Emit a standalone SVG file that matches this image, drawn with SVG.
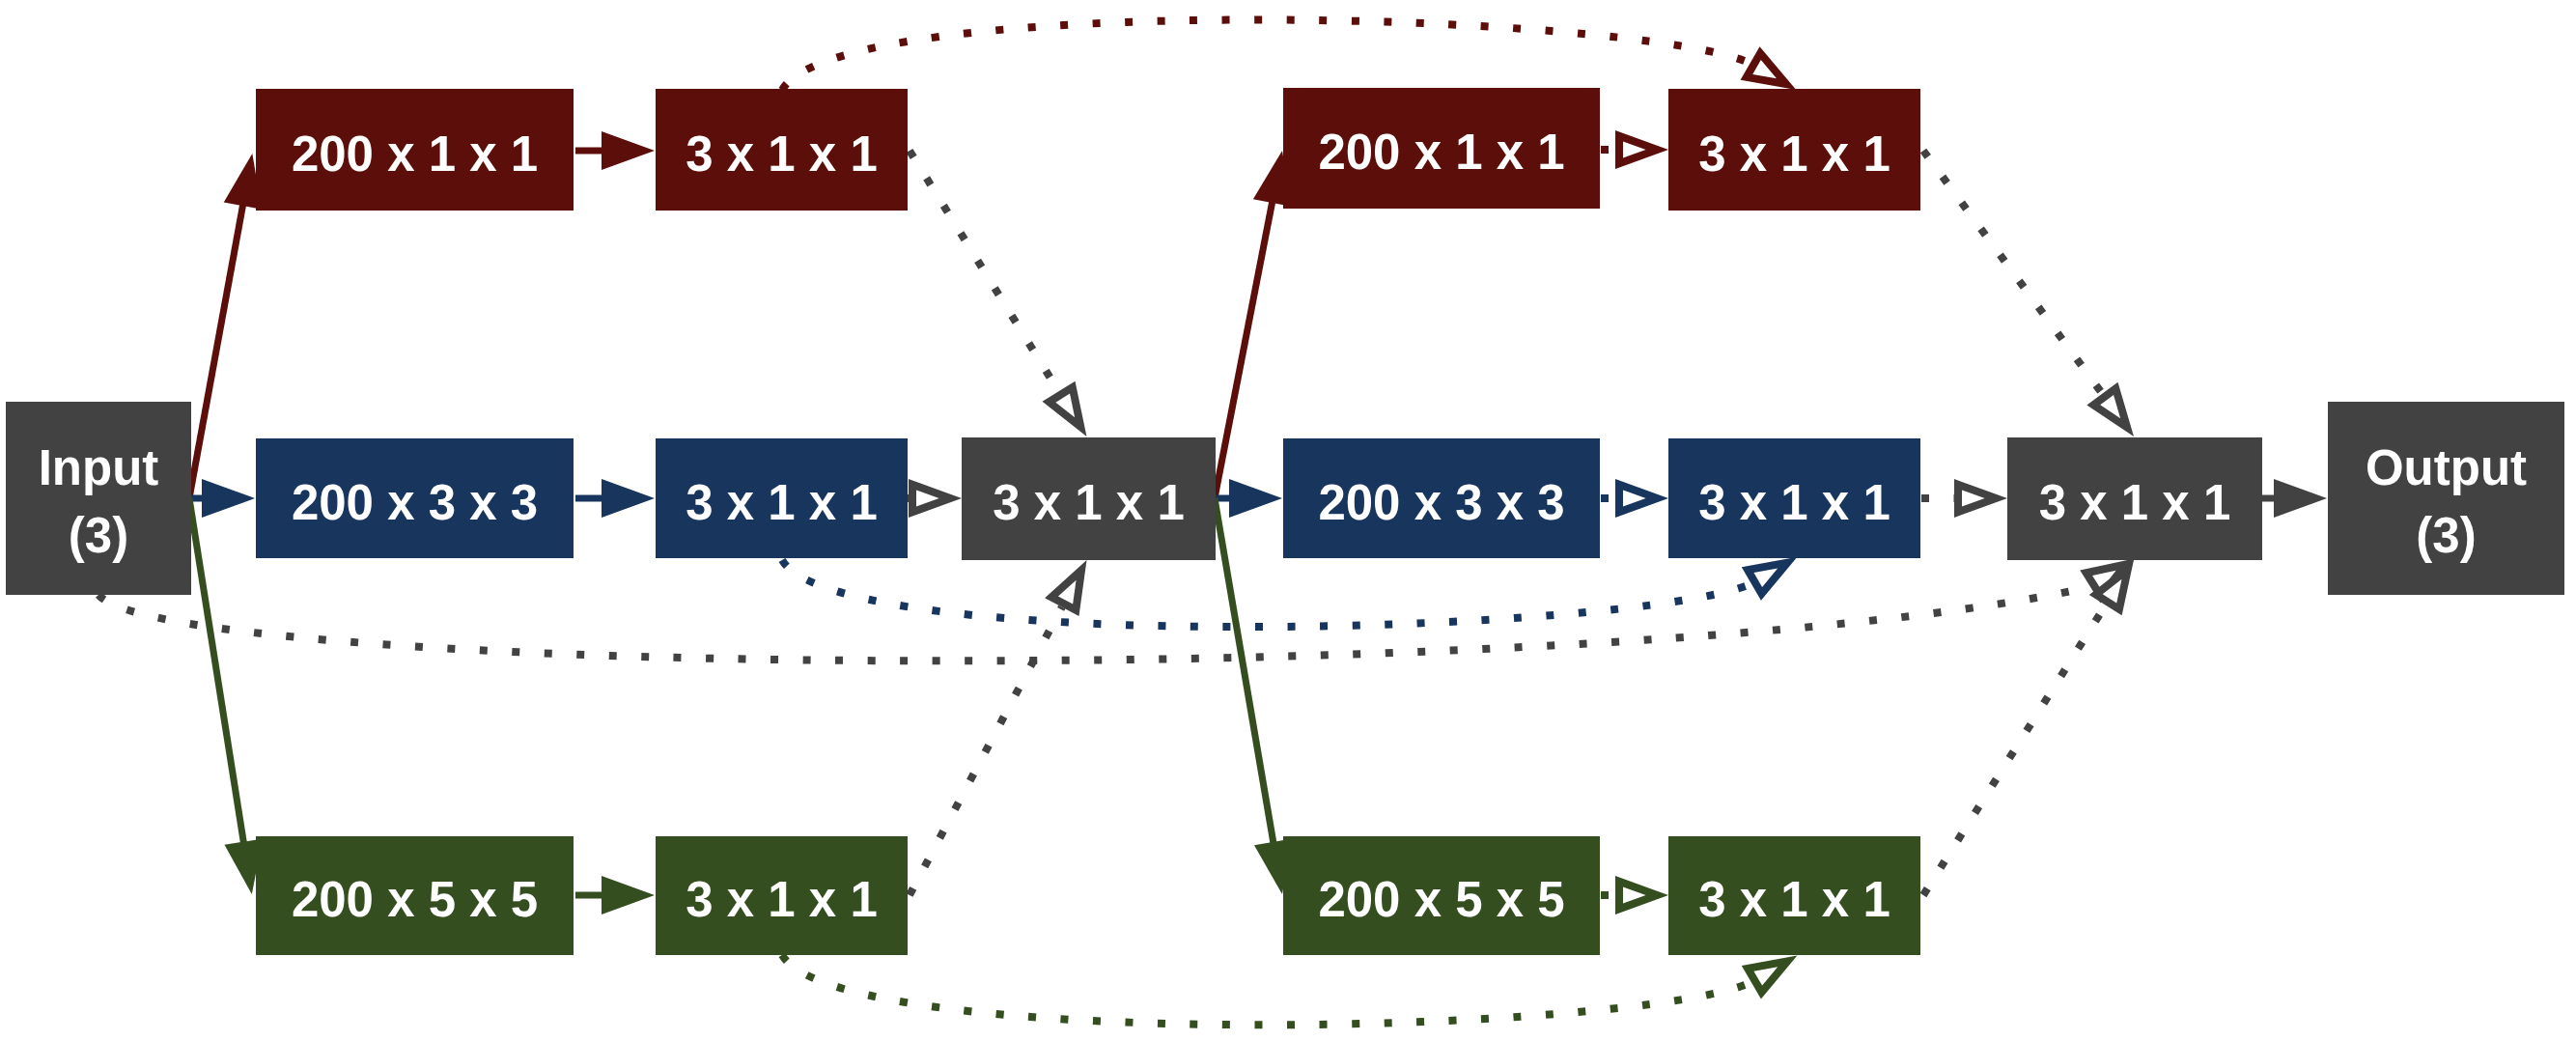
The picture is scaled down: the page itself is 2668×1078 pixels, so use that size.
<svg xmlns="http://www.w3.org/2000/svg" width="2668" height="1078" viewBox="0 0 2668 1078">
<style>
.red{fill:#5C0F0A}.blue{fill:#18365D}.green{fill:#344E1F}.gray{fill:#424242}
.t{fill:#FFFFFF;font-family:"Liberation Sans",Arial,sans-serif;font-weight:bold;font-size:51px;text-anchor:middle}
.s{fill:none;stroke-width:7}
.d{fill:none;stroke-width:8;stroke-dasharray:8 25.5}
.cr{stroke:#5C0F0A}.cb{stroke:#18365D}.cg{stroke:#344E1F}.ck{stroke:#424242}
</style>
<defs>
<marker id="fr" markerUnits="userSpaceOnUse" viewBox="0 -22 60 44" markerWidth="60" markerHeight="44" refX="1" refY="0" orient="auto" overflow="visible"><polygon class="red" points="0,-20 55,0 0,20"/></marker>
<marker id="fb" markerUnits="userSpaceOnUse" viewBox="0 -22 60 44" markerWidth="60" markerHeight="44" refX="1" refY="0" orient="auto" overflow="visible"><polygon class="blue" points="0,-20 55,0 0,20"/></marker>
<marker id="fg" markerUnits="userSpaceOnUse" viewBox="0 -22 60 44" markerWidth="60" markerHeight="44" refX="1" refY="0" orient="auto" overflow="visible"><polygon class="green" points="0,-20 55,0 0,20"/></marker>
<marker id="fk" markerUnits="userSpaceOnUse" viewBox="0 -22 60 44" markerWidth="60" markerHeight="44" refX="1" refY="0" orient="auto" overflow="visible"><polygon class="gray" points="0,-20 55,0 0,20"/></marker>
<marker id="or" markerUnits="userSpaceOnUse" viewBox="0 -22 60 44" markerWidth="60" markerHeight="44" refX="0" refY="0" orient="auto" overflow="visible"><polygon class="red" points="0,-20 55,0 0,20"/><polygon fill="#FFFFFF" points="8,-8.6 31.6,0 8,8.6"/></marker>
<marker id="ob" markerUnits="userSpaceOnUse" viewBox="0 -22 60 44" markerWidth="60" markerHeight="44" refX="0" refY="0" orient="auto" overflow="visible"><polygon class="blue" points="0,-20 55,0 0,20"/><polygon fill="#FFFFFF" points="8,-8.6 31.6,0 8,8.6"/></marker>
<marker id="og" markerUnits="userSpaceOnUse" viewBox="0 -22 60 44" markerWidth="60" markerHeight="44" refX="0" refY="0" orient="auto" overflow="visible"><polygon class="green" points="0,-20 55,0 0,20"/><polygon fill="#FFFFFF" points="8,-8.6 31.6,0 8,8.6"/></marker>
<marker id="ok" markerUnits="userSpaceOnUse" viewBox="0 -22 60 44" markerWidth="60" markerHeight="44" refX="0" refY="0" orient="auto" overflow="visible"><polygon class="gray" points="0,-20 55,0 0,20"/><polygon fill="#FFFFFF" points="8,-8.6 31.6,0 8,8.6"/></marker>
</defs>
<rect width="2668" height="1078" fill="#FFFFFF"/>
<g id="connectors">
<!-- solid -->
<path class="s cr" d="M196 516 L251.6 212.1" marker-end="url(#fr)"/>
<path class="s cb" d="M196 516 L210 516" marker-end="url(#fb)"/>
<path class="s cg" d="M196 516 L252.4 872.7" marker-end="url(#fg)"/>
<path class="s cr" d="M596 156 L624 156" marker-end="url(#fr)"/>
<path class="s cb" d="M596 516 L624 516" marker-end="url(#fb)"/>
<path class="s cg" d="M596 927 L624 927" marker-end="url(#fg)"/>
<path class="s cr" d="M1258 516 L1317.7 209" marker-end="url(#fr)"/>
<path class="s cb" d="M1258 516 L1274 516" marker-end="url(#fb)"/>
<path class="s cg" d="M1258 516 L1318.9 872.8" marker-end="url(#fg)"/>
<path class="s ck" d="M2343 516 L2356 516" marker-end="url(#fk)"/>
<!-- dotted to middle merge -->
<path class="d ck" d="M942 156 L1096.5 405.3" marker-end="url(#ok)"/>
<path class="d ck" d="M940 516 L941 516" marker-end="url(#ok)"/>
<path class="d ck" d="M942 927 L1099.8 628.6" marker-end="url(#ok)"/>
<!-- dotted skip arcs -->
<path class="d cr" d="M810 93 C870 -10 1690 12 1811.7 65 l0.87 0.5" marker-end="url(#or)"/>
<path class="d cb" d="M810 580 C870 680 1690 656 1813 605 l0.86 -0.5" marker-end="url(#ob)"/>
<path class="d cg" d="M810 989 C870 1090 1690 1071 1813 1017.7 l0.86 -0.5" marker-end="url(#og)"/>
<path class="d ck" d="M102 616 C180 705 1700 712 2164 608 l0.85 -0.53" marker-end="url(#ok)"/>
<!-- dotted second stage -->
<path class="d cr" d="M1658 155 L1673 155" marker-end="url(#or)"/>
<path class="d cb" d="M1658 516 L1673 516" marker-end="url(#ob)"/>
<path class="d cg" d="M1658 927 L1673 927" marker-end="url(#og)"/>
<path class="d ck" d="M1992 156 L2177.4 407.7" marker-end="url(#ok)"/>
<path class="d ck" d="M1990 516 L2024 516" marker-end="url(#ok)"/>
<path class="d ck" d="M1992 927 L2180.7 626.6" marker-end="url(#ok)"/>
</g>
<g id="input"><rect class="gray" x="6" y="416" width="192" height="200"/><text class="t" x="102" y="502">Input</text><text class="t" x="102" y="572">(3)</text></g>
<g id="r1a"><rect class="red" x="265" y="92" width="329" height="126"/><text class="t" x="429.5" y="177">200 x 1 x 1</text></g>
<g id="r1b"><rect class="red" x="679" y="92" width="261" height="126"/><text class="t" x="809.5" y="177">3 x 1 x 1</text></g>
<g id="b1a"><rect class="blue" x="265" y="454" width="329" height="124"/><text class="t" x="429.5" y="538">200 x 3 x 3</text></g>
<g id="b1b"><rect class="blue" x="679" y="454" width="261" height="124"/><text class="t" x="809.5" y="538">3 x 1 x 1</text></g>
<g id="g1a"><rect class="green" x="265" y="866" width="329" height="123"/><text class="t" x="429.5" y="949">200 x 5 x 5</text></g>
<g id="g1b"><rect class="green" x="679" y="866" width="261" height="123"/><text class="t" x="809.5" y="949">3 x 1 x 1</text></g>
<g id="merge1"><rect class="gray" x="996" y="453" width="263" height="127"/><text class="t" x="1127.5" y="538">3 x 1 x 1</text></g>
<g id="r2a"><rect class="red" x="1329" y="91" width="328" height="125"/><text class="t" x="1493" y="175">200 x 1 x 1</text></g>
<g id="r2b"><rect class="red" x="1728" y="92" width="261" height="126"/><text class="t" x="1858.5" y="177">3 x 1 x 1</text></g>
<g id="b2a"><rect class="blue" x="1329" y="454" width="328" height="124"/><text class="t" x="1493" y="538">200 x 3 x 3</text></g>
<g id="b2b"><rect class="blue" x="1728" y="454" width="261" height="124"/><text class="t" x="1858.5" y="538">3 x 1 x 1</text></g>
<g id="g2a"><rect class="green" x="1329" y="866" width="328" height="123"/><text class="t" x="1493" y="949">200 x 5 x 5</text></g>
<g id="g2b"><rect class="green" x="1728" y="866" width="261" height="123"/><text class="t" x="1858.5" y="949">3 x 1 x 1</text></g>
<g id="merge2"><rect class="gray" x="2079" y="453" width="264" height="127"/><text class="t" x="2211" y="538">3 x 1 x 1</text></g>
<g id="output"><rect class="gray" x="2411" y="416" width="245" height="200"/><text class="t" x="2533.5" y="502">Output</text><text class="t" x="2533.5" y="572">(3)</text></g>
</svg>
